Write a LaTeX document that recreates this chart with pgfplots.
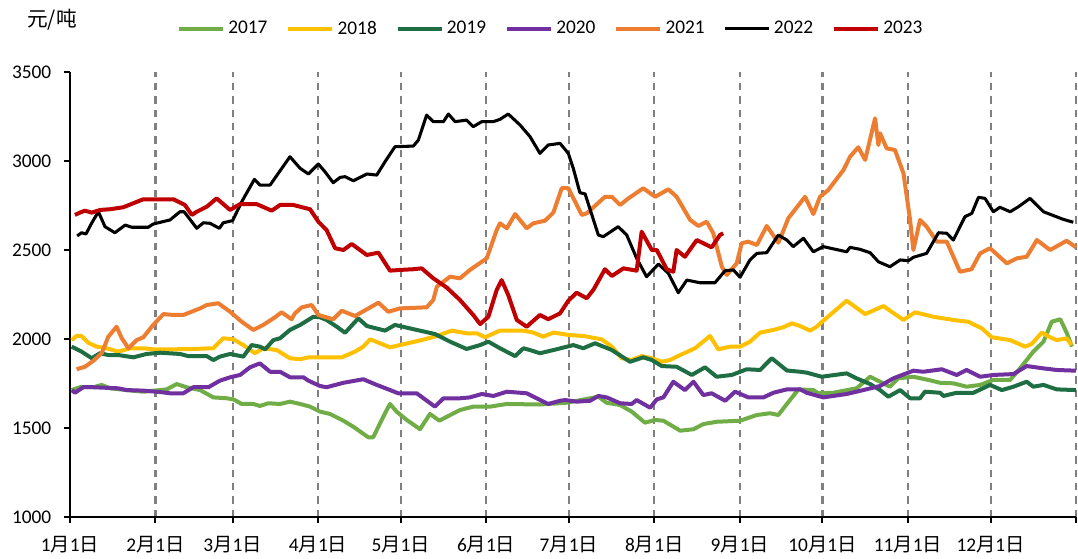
\documentclass[border=0pt]{standalone}
\usepackage{fontspec}
\setmainfont{Carlito}
\newfontfamily\cjk{Noto Sans CJK SC}
\usepackage{pgfplots}
\pgfplotsset{compat=1.18}
\definecolor{c17}{HTML}{70AD47}
\definecolor{c18}{HTML}{FFC000}
\definecolor{c19}{HTML}{1F6E43}
\definecolor{c20}{HTML}{7030A0}
\definecolor{c21}{HTML}{ED7D31}
\definecolor{c22}{HTML}{000000}
\definecolor{c23}{HTML}{C00000}
\newcommand{\md}[1]{#1{\cjk 月}1{\cjk 日}}
\begin{document}
\begin{tikzpicture}
\useasboundingbox (-52.5pt,-30.75pt) rectangle (756pt,387.75pt);
\begin{axis}[
  scale only axis, width=754.5pt, height=333.75pt,
  xmin=0, xmax=365, ymin=1000, ymax=3500,
  axis x line*=bottom, axis y line*=left,
  axis line style={line width=1.5pt, black},
  tick align=outside, major tick length=4.5pt,
  tick style={line width=1.5pt, black},
  xtick={0,31,59,90,120,151,181,212,243,273,304,334,365},
  xticklabels={\md{1},\md{2},\md{3},\md{4},\md{5},\md{6},\md{7},\md{8},\md{9},\md{10},\md{11},\md{12},{}},
  ytick={1000,1500,2000,2500,3000,3500},
  /pgf/number format/assume math mode=true,
  /pgf/number format/1000 sep={},
  ticklabel style={font=\fontsize{14.5}{17}\selectfont},
  yticklabel style={xshift=-6pt},
  xticklabel style={yshift=-6.5pt},
  xmajorgrids,
  major grid style={dash pattern=on 5.5pt off 4.5pt, line width=1.6pt, color=black!50},
  every axis plot/.append style={line width=3pt, line join=round, no markers},
  legend columns=7,
  legend image code/.code={\draw[#1] (0pt,0pt) -- (33pt,0pt);},
  legend style={at={(axis description cs:0,1)}, anchor=west, xshift=80pt, yshift=32.5pt,
    draw=none, fill=none, inner sep=0pt, font=\fontsize{14.5}{17}\selectfont,
    nodes={inner sep=2.5pt},
    /tikz/every even column/.append style={column sep=11.6pt}},
  clip=false,
]
\node at (rel axis cs:0,1) [xshift=-13.5pt, yshift=39pt] {\fontsize{15.5}{18}\selectfont\cjk 元/吨};
\addplot[c17] coordinates {(0.6,1713)(3.6,1729)(8.5,1729)(11.5,1742)(14.5,1723)(20.6,1713)(26.6,1704)(35.1,1717)(38.7,1747)(42.3,1729)(47.2,1713)(52.0,1672)(56.9,1667)(59.3,1661)(62.3,1635)(66.5,1635)(68.9,1624)(72.0,1639)(76.2,1635)(79.8,1648)(83.5,1635)(87.1,1620)(90.7,1592)(94.3,1579)(99.2,1541)(102.8,1507)(108.2,1448)(110.0,1448)(114.3,1583)(116.1,1635)(118.5,1592)(122.2,1545)(127.0,1493)(130.6,1579)(134.0,1541)(136.7,1563)(141.5,1601)(146.3,1620)(152.4,1620)(158.5,1635)(170.5,1632)(180.2,1642)(188.7,1667)(191.7,1676)(194.7,1642)(199.6,1629)(203.8,1592)(208.6,1530)(212.3,1545)(215.3,1541)(221.4,1485)(226.2,1493)(229.8,1522)(234.6,1535)(243.1,1541)(249.2,1573)(254.0,1583)(257.0,1573)(260.1,1635)(264.3,1717)(269.7,1713)(271.5,1695)(276.9,1698)(285.4,1723)(290.3,1788)(293.9,1760)(297.5,1732)(300.5,1779)(306.0,1788)(311.4,1770)(315.7,1754)(320.5,1751)(325.3,1732)(330.2,1742)(335.0,1770)(341.1,1770)(344.7,1835)(349.5,1929)(353.2,1985)(356.2,2097)(359.3,2111)(361.7,2032)(363.5,1957)};
\addlegendentry{2017}
\addplot[c18] coordinates {(0.6,1994)(2.4,2017)(4.2,2017)(6.6,1979)(9.7,1957)(13.3,1948)(17.5,1929)(21.8,1948)(26.6,1948)(30.2,1942)(37.5,1942)(44.7,1944)(52.0,1948)(55.6,2004)(59.3,1998)(62.9,1966)(67.1,1920)(70.1,1948)(75.0,1938)(79.8,1892)(83.5,1886)(86.5,1897)(90.7,1897)(98.6,1897)(103.4,1929)(106.4,1957)(108.9,1998)(112.5,1976)(116.1,1953)(119.7,1966)(123.4,1979)(127.6,1994)(133.1,2017)(138.5,2047)(143.9,2032)(147.6,2032)(150.6,2010)(156.0,2047)(164.5,2047)(168.1,2036)(171.7,2013)(175.4,2036)(181.4,2022)(186.2,2017)(192.9,1998)(196.6,1957)(200.2,1892)(203.8,1882)(207.4,1904)(211.1,1892)(214.7,1872)(217.7,1882)(221.4,1910)(226.8,1948)(232.2,2017)(235.2,1942)(239.5,1957)(243.1,1957)(246.7,1985)(250.4,2036)(255.2,2051)(258.8,2066)(261.9,2088)(264.9,2073)(268.5,2047)(270.9,2069)(273.3,2103)(281.8,2215)(288.5,2140)(295.1,2185)(302.4,2107)(306.6,2150)(313.2,2125)(320.5,2107)(325.9,2097)(330.8,2060)(334.4,2010)(341.1,1994)(346.5,1957)(348.9,1972)(352.6,2036)(355.6,2010)(358.0,1994)(361.6,2004)(363.4,1966)};
\addlegendentry{2018}
\addplot[c19] coordinates {(0.6,1957)(4.2,1929)(7.9,1892)(10.9,1920)(13.9,1910)(17.5,1910)(23.0,1897)(27.8,1916)(32.7,1923)(39.9,1916)(42.9,1904)(49.6,1904)(52.0,1882)(54.4,1901)(58.1,1916)(62.9,1901)(65.9,1966)(68.9,1957)(70.8,1942)(73.8,1994)(76.2,2004)(79.8,2051)(83.5,2079)(88.3,2125)(90.7,2122)(93.1,2107)(96.8,2069)(99.8,2035)(104.6,2116)(107.7,2073)(114.3,2047)(117.9,2079)(125.8,2051)(132.4,2028)(137.9,1985)(143.9,1944)(148.8,1966)(151.8,1985)(156.0,1948)(161.5,1904)(164.5,1948)(166.9,1938)(170.5,1920)(175.4,1938)(182.6,1966)(186.2,1948)(190.5,1976)(196.6,1938)(203.2,1872)(208.0,1897)(211.1,1882)(214.7,1848)(220.1,1844)(225.6,1798)(230.4,1841)(234.6,1788)(240.1,1798)(245.5,1830)(250.4,1826)(254.6,1892)(260.1,1823)(264.9,1816)(267.3,1811)(272.7,1788)(281.8,1807)(285.4,1779)(290.3,1747)(293.9,1713)(296.9,1676)(301.2,1713)(304.8,1667)(308.4,1667)(310.2,1704)(315.7,1698)(316.9,1680)(321.7,1698)(327.8,1698)(333.8,1742)(338.1,1713)(342.3,1732)(347.1,1760)(349.5,1732)(353.2,1742)(358.0,1717)(365.0,1713)};
\addlegendentry{2019}
\addplot[c20] coordinates {(0.6,1713)(1.8,1698)(4.8,1729)(8.5,1729)(17.5,1723)(20.6,1713)(26.6,1710)(32.7,1702)(36.3,1695)(41.1,1695)(44.7,1729)(50.2,1729)(54.4,1766)(58.1,1785)(61.7,1798)(65.3,1841)(68.9,1863)(72.6,1816)(76.2,1816)(79.8,1785)(84.7,1785)(86.5,1766)(90.7,1736)(93.1,1729)(99.2,1754)(106.4,1774)(111.3,1742)(115.5,1717)(119.1,1695)(125.8,1695)(132.4,1620)(135.5,1667)(141.5,1667)(145.1,1672)(149.4,1691)(153.6,1680)(158.5,1704)(165.7,1695)(169.3,1667)(173.5,1635)(177.8,1653)(179.6,1657)(183.8,1648)(188.7,1653)(191.7,1680)(194.7,1672)(199.6,1639)(203.8,1635)(205.6,1657)(210.5,1614)(212.9,1661)(215.3,1672)(218.9,1760)(223.1,1713)(226.2,1760)(229.8,1685)(232.8,1695)(237.7,1653)(241.3,1704)(246.1,1672)(251.6,1672)(255.2,1698)(260.1,1717)(264.9,1717)(267.3,1698)(273.3,1672)(281.8,1691)(287.8,1713)(293.9,1736)(298.7,1779)(306.0,1822)(309.6,1816)(316.3,1830)(321.7,1798)(325.3,1826)(330.2,1788)(335.0,1798)(342.3,1803)(347.1,1848)(353.2,1835)(358.0,1826)(365.0,1822)};
\addlegendentry{2020}
\addplot[c21] coordinates {(2.4,1830)(5.4,1844)(8.5,1878)(11.5,1920)(13.9,2013)(16.9,2069)(18.8,2004)(21.2,1948)(24.2,1994)(26.6,2010)(30.2,2079)(33.9,2140)(37.5,2135)(41.1,2135)(47.2,2172)(49.6,2191)(53.8,2201)(58.1,2153)(62.3,2097)(66.5,2051)(70.1,2079)(73.8,2116)(76.8,2150)(80.4,2111)(81.6,2144)(84.1,2178)(87.7,2191)(90.1,2135)(95.5,2111)(98.6,2159)(103.4,2129)(107.7,2167)(111.9,2204)(115.5,2153)(119.7,2172)(129.4,2178)(131.8,2219)(133.1,2294)(137.9,2350)(141.5,2341)(145.1,2388)(151.2,2453)(154.8,2612)(156.0,2650)(158.5,2622)(161.5,2702)(165.7,2622)(168.1,2650)(172.4,2665)(175.4,2711)(178.4,2847)(180.8,2847)(185.7,2697)(187.5,2706)(194.1,2799)(196.6,2799)(199.6,2753)(202.6,2790)(208.0,2847)(212.3,2799)(217.1,2841)(220.1,2799)(225.0,2669)(228.0,2635)(231.0,2659)(233.4,2594)(236.5,2406)(238.3,2360)(241.9,2425)(243.7,2538)(246.1,2547)(249.2,2528)(252.8,2635)(257.0,2541)(258.2,2584)(260.6,2678)(266.7,2799)(269.7,2702)(272.1,2799)(275.1,2837)(280.6,2949)(283.0,3024)(286.0,3077)(288.5,3006)(292.1,3240)(293.3,3090)(293.9,3156)(296.3,3071)(299.3,3062)(302.4,2931)(304.8,2669)(306.0,2500)(308.4,2669)(310.8,2631)(314.5,2547)(318.1,2547)(322.9,2378)(327.1,2392)(330.2,2481)(333.8,2510)(339.9,2425)(343.5,2453)(347.1,2462)(350.8,2556)(355.6,2500)(361.6,2552)(365.0,2515)};
\addlegendentry{2021}
\addplot[c22, line width=2.3pt] coordinates {(2.6,2579)(4.2,2597)(5.8,2590)(7.9,2652)(10.3,2715)(12.7,2631)(16.3,2597)(20.0,2640)(22.4,2628)(28.4,2628)(30.2,2646)(36.3,2669)(39.9,2715)(41.4,2715)(46.0,2622)(48.4,2653)(50.8,2650)(54.2,2622)(55.6,2653)(59.0,2665)(62.3,2771)(66.9,2897)(68.9,2865)(72.6,2865)(79.8,3024)(83.5,2959)(86.5,2927)(90.1,2983)(92.5,2940)(95.5,2878)(98.0,2908)(99.8,2912)(102.8,2889)(107.7,2927)(111.3,2921)(114.3,2996)(117.9,3080)(124.6,3084)(126.4,3118)(129.4,3258)(131.8,3221)(135.5,3221)(137.3,3264)(139.7,3221)(143.9,3230)(146.3,3193)(149.4,3221)(153.6,3221)(156.0,3234)(159.0,3264)(163.3,3202)(166.9,3137)(170.5,3043)(173.5,3090)(177.8,3099)(180.8,3043)(182.6,2959)(185.0,2822)(186.9,2815)(191.7,2584)(193.5,2575)(198.9,2631)(202.0,2584)(205.6,2453)(209.2,2350)(213.5,2421)(217.1,2369)(220.7,2260)(223.8,2331)(228.6,2316)(234.0,2316)(237.7,2384)(240.7,2388)(243.1,2347)(246.7,2444)(249.2,2481)(252.8,2485)(257.0,2584)(260.1,2556)(262.4,2519)(266.1,2566)(269.7,2490)(273.3,2519)(281.8,2490)(283.0,2515)(286.6,2504)(290.3,2485)(293.3,2434)(297.5,2406)(301.2,2444)(304.2,2440)(306.0,2459)(310.8,2481)(315.1,2597)(318.1,2594)(320.5,2556)(324.7,2687)(327.2,2706)(329.6,2796)(332.0,2790)(335.0,2715)(337.4,2740)(341.1,2715)(344.1,2743)(348.3,2790)(353.2,2715)(356.2,2697)(360.4,2672)(364.0,2656)};
\addlegendentry{2022}
\addplot[c23] coordinates {(1.8,2697)(3.6,2710)(5.4,2721)(7.9,2710)(10.9,2725)(14.5,2729)(19.3,2740)(26.6,2785)(37.5,2785)(41.7,2753)(44.2,2697)(46.0,2715)(49.6,2743)(53.2,2790)(58.1,2725)(61.7,2758)(67.7,2758)(73.2,2721)(76.2,2753)(81.0,2753)(87.1,2729)(90.1,2659)(93.1,2612)(96.2,2510)(99.2,2500)(102.2,2534)(107.7,2472)(111.9,2485)(116.1,2384)(119.7,2388)(124.6,2392)(127.6,2397)(131.8,2341)(136.7,2289)(141.5,2219)(146.3,2135)(148.8,2084)(151.8,2125)(154.8,2275)(156.6,2331)(159.0,2247)(162.1,2107)(165.7,2069)(170.5,2135)(173.5,2111)(177.8,2144)(180.8,2215)(183.8,2260)(187.5,2229)(190.0,2279)(194.1,2392)(196.6,2354)(200.8,2397)(205.6,2384)(207.4,2603)(211.1,2500)(212.9,2500)(216.5,2392)(218.9,2378)(220.1,2500)(223.1,2462)(227.4,2556)(232.8,2515)(235.8,2584)(237.0,2594)};
\addlegendentry{2023}
\end{axis}
\end{tikzpicture}
\end{document}
